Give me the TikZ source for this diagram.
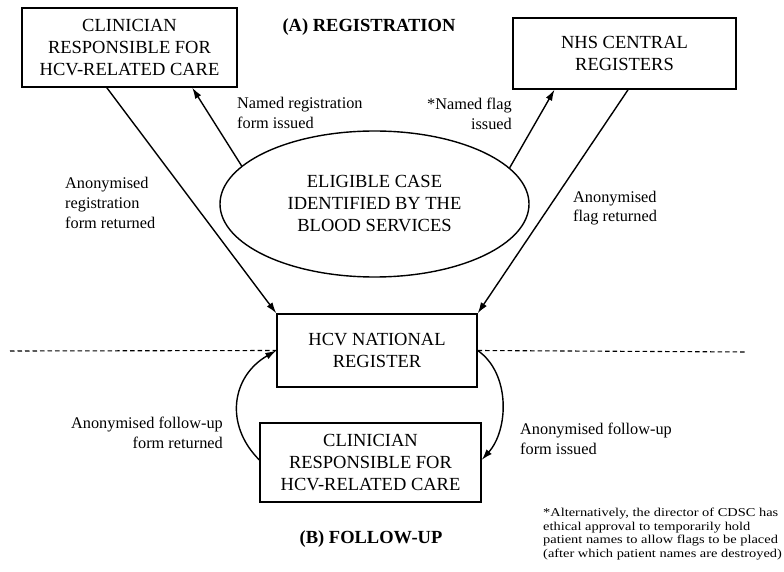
\documentclass[tikz,border=0pt]{standalone}
\usepackage{fontspec}
\setmainfont{Liberation Serif}
\newfontfamily\fnfont[FakeStretch=1.2]{Liberation Serif}
\usetikzlibrary{arrows.meta,calc,shapes.geometric}
\begin{document}
\begin{tikzpicture}[x=1pt,y=-1pt,
  box/.style={draw,line width=1.4pt,inner sep=0pt,align=center,font=\fontsize{18.5}{22}\selectfont},
  lbl/.style={inner sep=0pt,font=\fontsize{16.3}{19.7}\selectfont},
  ttl/.style={inner sep=0pt,font=\fontsize{18.5}{22}\selectfont\bfseries},
  conn/.style={line width=1.4pt,-{Latex[length=11pt,width=7pt]}},
  divider/.style={line width=1.1pt,dash pattern=on 4.5pt off 3pt},
  ]
\useasboundingbox[fill=white] (0,0) rectangle (784,572);
% nodes
\node[box,minimum width=215pt,minimum height=79pt] (clin) at (129.5,47.5) {CLINICIAN\\RESPONSIBLE FOR\\HCV-RELATED CARE};
\node[box,minimum width=223pt,minimum height=71pt] (nhs) at (624.5,53.5) {NHS CENTRAL\\REGISTERS};
\node[box,ellipse,minimum width=309pt,minimum height=146pt] (ell) at (374.5,204) {ELIGIBLE CASE\\IDENTIFIED BY THE\\BLOOD SERVICES};
\node[box,minimum width=200pt,minimum height=73pt] (hcv) at (377,350.5) {HCV NATIONAL\\REGISTER};
\node[box,minimum width=221pt,minimum height=79pt] (fu) at (370.5,462.5) {CLINICIAN\\RESPONSIBLE FOR\\HCV-RELATED CARE};
% titles
\node[ttl] (ta) at (369,27) {(A) REGISTRATION};
\node[ttl] (tb) at (371,539) {(B) FOLLOW-UP};
% labels
\node[lbl,anchor=west,align=left] (l1) at (237,113) {Named registration\\form issued};
\node[lbl,anchor=east,align=right] (l2) at (512,114) {*Named flag\\issued};
\node[lbl,anchor=west,align=left] (l3) at (65,203) {Anonymised\\registration\\form returned};
\node[lbl,anchor=west,align=left] (l4) at (573,208) {Anonymised\\flag returned};
\node[lbl,anchor=east,align=right] (l5) at (223,433) {Anonymised follow-up\\form returned};
\node[lbl,anchor=west,align=left] (l6) at (520,439) {Anonymised follow-up\\form issued};
\node[inner sep=0pt,anchor=west,align=left,font=\fnfont\fontsize{12}{13.7}\selectfont] (fn) at (543,534)
  {*Alternatively, the director of CDSC has\\ethical approval to temporarily hold\\patient names to allow flags to be placed\\(after which patient names are destroyed)};
% dashed divider
\coordinate (dl) at (10,351);
\coordinate (dr) at (747,352);
\draw[divider] (dl) -- (hcv.west);
\draw[divider] (hcv.east) -- (dr);
% connectors
\draw[conn] ($(clin.south west)!0.395!(clin.south east)$) -- (hcv.north west);
\draw[conn] (ell.164) -- ($(clin.south west)!0.79!(clin.south east)$);
\draw[conn] (ell.15.6) -- ($(nhs.south west)!0.188!(nhs.south east)$);
\draw[conn] ($(nhs.south west)!0.516!(nhs.south east)$) -- (hcv.north east);
\draw[conn] ($(fu.north west)!0.468!(fu.south west)$) .. controls +(-35,-35) and +(-45,26) .. (hcv.west);
\draw[conn] (hcv.east) .. controls +(33,23) and +(27,-30) .. ($(fu.north east)!0.468!(fu.south east)$);
\end{tikzpicture}
\end{document}
